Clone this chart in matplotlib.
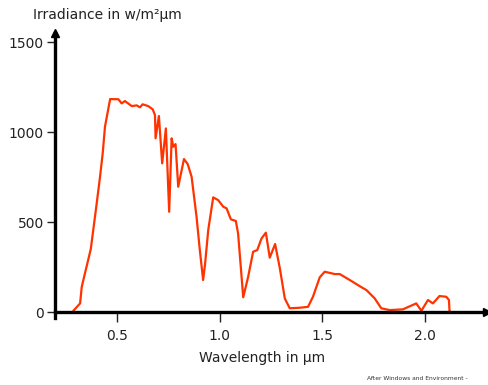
import matplotlib
matplotlib.use("Agg")
import matplotlib.pyplot as plt

# Solar irradiance at sea level
wavelength = [0.289, 0.322, 0.330, 0.346, 0.374, 0.386, 0.403, 0.419, 0.432, 0.443,
              0.468, 0.508, 0.524, 0.540, 0.573, 0.597, 0.613, 0.626, 0.653, 0.675,
              0.686, 0.689, 0.705, 0.721, 0.739, 0.755, 0.767, 0.775, 0.786, 0.799,
              0.827, 0.845, 0.864, 0.888, 0.904, 0.920, 0.929, 0.945, 0.969, 0.993,
              1.018, 1.034, 1.055, 1.079, 1.090, 1.115, 1.139, 1.163, 1.183, 1.204,
              1.225, 1.244, 1.270, 1.293, 1.317, 1.341, 1.390, 1.430, 1.454, 1.487,
              1.511, 1.560, 1.584, 1.633, 1.681, 1.714, 1.754, 1.786, 1.827, 1.891,
              1.956, 1.981, 2.013, 2.037, 2.069, 2.102, 2.115, 2.118, 2.123]
irradiance = [7, 48, 140, 217, 350, 456, 606, 752, 883, 1030,
              1183, 1182, 1159, 1172, 1144, 1148, 1137, 1154, 1144, 1126,
              1094, 965, 1089, 826, 1020, 557, 965, 918, 933, 696,
              850, 822, 752, 530, 344, 178, 261, 456, 637, 622,
              585, 576, 515, 506, 437, 82, 196, 335, 344, 409,
              441, 302, 378, 243, 76, 21, 24, 29, 85, 193,
              224, 211, 211, 178, 144, 122, 76, 21, 11, 15,
              48, 7, 67, 48, 89, 85, 67, 2, 0]

x_ticks = [0.5, 1.0, 1.5, 2.0]
x_tick_labels = ["0.5", "1.0", "1.5", "2.0"]
y_ticks = [0, 500, 1000, 1500]
y_tick_labels = ["0", "500", "1000", "1500"]

fig = plt.figure(figsize=(4.88, 3.85), dpi=100)
ax = fig.add_axes([55 / 488, 67 / 385, 432 / 488, 285 / 385])

ax.plot(wavelength, irradiance, color="#ff3300", lw=1.6,
        solid_joinstyle="round", solid_capstyle="round")

ax.set_xlim(0.2, 2.3)
ax.set_ylim(-33, 1550)

# axis lines with arrow heads
for side in ["top", "right"]:
    ax.spines[side].set_visible(False)
ax.spines["bottom"].set_position(("data", 0))
ax.spines["left"].set_linewidth(2.4)
ax.spines["bottom"].set_linewidth(2.4)
ax.plot(1, 0, ">k", ms=5.5, transform=ax.get_yaxis_transform(), clip_on=False)
ax.plot(0.2, 1, "^k", ms=5.5, transform=ax.get_xaxis_transform(), clip_on=False)

ax.set_xticks(x_ticks)
ax.set_xticklabels(x_tick_labels, fontsize=10)
ax.set_yticks(y_ticks)
ax.set_yticklabels(y_tick_labels, fontsize=10)
ax.tick_params(axis="x", length=7, width=1, pad=5, colors="#222222")
ax.tick_params(axis="y", length=6, width=1, pad=2, colors="#222222")

fig.text(33 / 488, 1 - 15 / 385, "Irradiance in w/m\u00b2\u00b5m", fontsize=10,
         ha="left", va="center", color="#222222")
fig.text(262 / 488, 1 - 358 / 385, "Wavelength in \u00b5m", fontsize=10,
         ha="center", va="center", color="#222222")
fig.text(367 / 488, 1 - 378 / 385, "After Windows and Environment - ", fontsize=4.3,
         ha="left", va="center", color="#333333")

fig.savefig("out.png", dpi=100)
